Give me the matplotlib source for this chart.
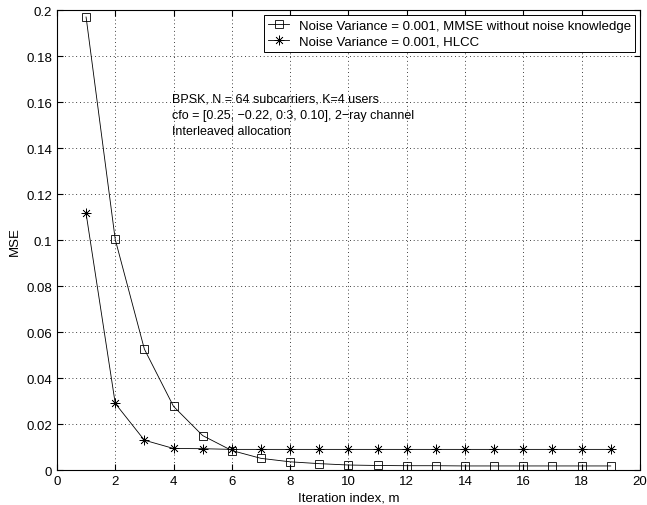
import matplotlib.pyplot as plt

# iteration index and MSE values
iters = list(range(1, 20))
mse_mmse = [0.197, 0.1003, 0.0526, 0.0277, 0.0150, 0.0085, 0.0051, 0.0036, 0.0028,
            0.0022, 0.0020, 0.0019, 0.0019, 0.0018, 0.0018, 0.0018, 0.0018, 0.0018, 0.0018]
mse_hlcc = [0.1116, 0.0290, 0.0130, 0.0094, 0.0093, 0.0090, 0.0090, 0.0090, 0.0090,
            0.0090, 0.0090, 0.0090, 0.0090, 0.0090, 0.0090, 0.0090, 0.0090, 0.0090, 0.0090]
labels = ['Noise Variance = 0.001, MMSE without noise knowledge',
          'Noise Variance = 0.001, HLCC']

plt.rcParams['font.family'] = ['Liberation Sans', 'DejaVu Sans']

fig = plt.figure(figsize=(6.47, 5.06), dpi=100)
ax = fig.add_axes([0.088, 0.069, 0.901, 0.909])

ax.plot(iters, mse_mmse, color='black', linewidth=0.6, marker='s', markersize=6,
        markerfacecolor='none', markeredgecolor='black', markeredgewidth=0.6, label=labels[0])
ax.plot(iters, mse_hlcc, color='black', linewidth=0.6, marker=(8, 2, 0), markersize=7,
        markeredgewidth=0.5, label=labels[1])

ax.set_xlim(0, 20)
ax.set_ylim(0, 0.2)
ax.set_xticks(range(0, 21, 2))
ax.set_yticks([i * 0.02 for i in range(11)])
ax.set_yticklabels(['0', '0.02', '0.04', '0.06', '0.08', '0.1', '0.12', '0.14',
                    '0.16', '0.18', '0.2'])
ax.tick_params(direction='in', length=4, labelsize=9.5, top=True, right=True)
ax.grid(True, linestyle=(0, (1, 3.5)), color='black', linewidth=0.6)
for s in ax.spines.values():
    s.set_linewidth(0.8)

ax.set_xlabel('Iteration index, m', fontsize=9.5, labelpad=3)
ax.set_ylabel('MSE', fontsize=9.5, labelpad=4)

ax.text(3.95, 0.1546, 'BPSK, N = 64 subcarriers, K=4 users\n'
        'cfo = [0.25, \u22120.22, 0:3, 0.10], 2\u2212ray channel\n'
        'Interleaved allocation', fontsize=9, va='center', linespacing=1.45)

leg = ax.legend(loc='upper right', fontsize=9.5, fancybox=False, edgecolor='black',
                framealpha=1, borderaxespad=0.4, handlelength=1.6, borderpad=0.3,
                labelspacing=0.3, handletextpad=0.7)
leg.get_frame().set_linewidth(0.7)

fig.savefig('out.png', dpi=100)
